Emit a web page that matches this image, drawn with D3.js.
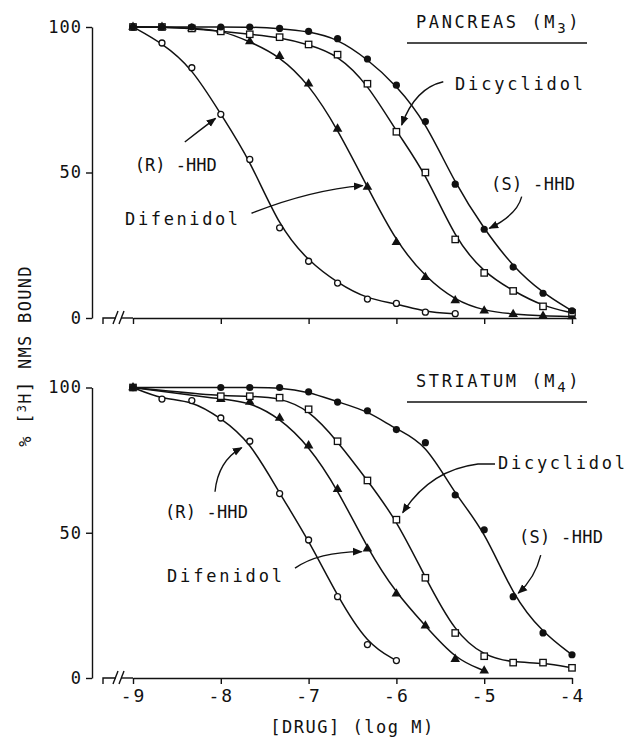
<!DOCTYPE html>
<html><head><meta charset="utf-8">
<script src="https://cdn.jsdelivr.net/npm/d3@7"></script>
<style>
html,body{margin:0;padding:0;background:#fff;}
svg{display:block;}
text{font-family:"DejaVu Sans Mono","Liberation Mono",monospace;fill:#111;}
</style></head>
<body>
<svg id="chart" width="628" height="738"></svg>
<script>
// ---------- data (log M vs % [3H]NMS bound) ----------
const xTickValues = [-9, -8, -7, -6, -5, -4];
const yTickValues = [0, 50, 100];

// Pancreas (M3)
const logDoseR_M3   = [-9, -8.67, -8.33, -8, -7.67, -7.33, -7, -6.67, -6.33, -6, -5.67, -5.33];
const boundR_M3     = [100, 94.5, 86, 70, 54.5, 31, 19.5, 12, 6.5, 5, 2, 1.5];
const logDoseDif_M3 = [-9, -8.67, -8.33, -8, -7.67, -7.33, -7, -6.67, -6.33, -6, -5.67, -5.33, -5, -4.67, -4.33, -4];
const boundDif_M3   = [100, 100, 99.5, 99, 95, 90, 80.5, 65, 45, 26, 14, 6, 2.5, 1.3, 0.7, 0.5];
const logDoseDic_M3 = [-9, -8.67, -8.33, -8, -7.67, -7.33, -7, -6.67, -6.33, -6, -5.67, -5.33, -5, -4.67, -4.33, -4];
const boundDic_M3   = [100, 100, 99.5, 98.5, 97.5, 96.5, 94, 90.5, 80.5, 64, 50, 27, 15.5, 9.3, 4, 1.8];
const logDoseS_M3   = [-9, -8.67, -8.33, -8, -7.67, -7.33, -7, -6.67, -6.33, -6, -5.67, -5.33, -5, -4.67, -4.33, -4];
const boundS_M3     = [100, 100, 100, 100, 100, 99.5, 98.5, 96, 89, 80, 67.5, 46, 30.5, 17.5, 8.5, 2.5];

// Striatum (M4)
const logDoseR_M4   = [-9, -8.67, -8.33, -8, -7.67, -7.33, -7, -6.67, -6.33, -6];
const boundR_M4     = [100, 96, 95.5, 89.5, 81.5, 63.5, 47.5, 28, 11.5, 6];
const logDoseDif_M4 = [-9, -8, -7.67, -7.33, -7, -6.67, -6.33, -6, -5.67, -5.33, -5];
const boundDif_M4   = [100, 96, 95, 89.5, 80, 65, 44.5, 29, 18, 6.5, 2.5];
const logDoseDic_M4 = [-9, -8, -7.67, -7.33, -7, -6.67, -6.33, -6, -5.67, -5.33, -5, -4.67, -4.33, -4];
const boundDic_M4   = [100, 97, 97, 96.5, 92.5, 81.5, 68, 54.5, 34.5, 15.5, 7.5, 5.3, 5.3, 3.5];
const logDoseS_M4   = [-9, -8, -7.67, -7.33, -7, -6.67, -6.33, -6, -5.67, -5.33, -5, -4.67, -4.33, -4];
const boundS_M4     = [100, 100, 100, 100, 98.5, 95, 92, 85.5, 81, 63, 51, 28, 15.5, 8];

const panelTitles = ["PANCREAS (M", "STRIATUM (M"];
const panelSubs = ["3", "4"];
const drugNames = ["(R) -HHD", "Difenidol", "Dicyclidol", "(S) -HHD"];

// ---------- layout ----------
const svg = d3.select("#chart");
const X0 = 133, X1 = 572, AXIS_X = 92;
const x = d3.scaleLinear().domain([-9, -4]).range([X0, X1]);
const panels = [
  {y: d3.scaleLinear().domain([0, 100]).range([318, 27]), title: 0,
   series: [[logDoseR_M3, boundR_M3, "oc"], [logDoseDif_M3, boundDif_M3, "tri"], [logDoseDic_M3, boundDic_M3, "sq"], [logDoseS_M3, boundS_M3, "fc"]],
   labels: [
     {t: 0, at: [-8.98, 50.5], len: 82, arrow: [[-8.41, 60.5], [-8.24, 64.5], [-8.06, 68.6]]},
     {t: 1, at: [-9.09, 32], len: 113, arrow: [[-7.65, 36], [-6.98, 44.0], [-6.384, 45.5]]},
     {t: 2, at: [-5.333, 78.35], len: 128, arrow: [[-5.466, 81.2], [-5.788, 79.0], [-5.94, 66.3]]},
     {t: 3, at: [-4.923, 44.0], len: 84, arrow: [[-4.573, 41.7], [-4.626, 35.4], [-4.942, 30.8]]}
   ], showX: false},
  {y: d3.scaleLinear().domain([0, 100]).range([678, 387.5]), title: 1,
   series: [[logDoseR_M4, boundR_M4, "oc"], [logDoseDif_M4, boundDif_M4, "tri"], [logDoseDic_M4, boundDic_M4, "sq"], [logDoseS_M4, boundS_M4, "fc"]],
   labels: [
     {t: 0, at: [-8.636, 55.0], len: 83, arrow: [[-8.066, 64.1], [-8.032, 74.7], [-7.762, 79.3]]},
     {t: 1, at: [-8.613, 32.9], len: 115, arrow: [[-7.155, 37.8], [-6.893, 43.4], [-6.395, 43.5]]},
     {t: 2, at: [-4.843, 71.9], len: 127, arrow: [[-4.877, 73.67], [-5.071, 73.67], [-5.617, 71.6], [-5.928, 56.9]]},
     {t: 3, at: [-4.604, 46.6], len: 84, arrow: [[-4.356, 42.3], [-4.421, 34.4], [-4.612, 29.2]]}
   ], showX: true}
];

// arrowhead
svg.append("defs").append("marker")
  .attr("id", "ah").attr("viewBox", "0 0 10 10").attr("refX", 9).attr("refY", 5)
  .attr("markerWidth", 7).attr("markerHeight", 7).attr("orient", "auto")
  .append("path").attr("d", "M0,1 L10,5 L0,9 Z").attr("fill", "#111");

const FONT = 17;

panels.forEach((p, pi) => {
  const y = p.y;
  const g = svg.append("g");
  const y0 = y(0);

  // y axis
  const ya = g.append("g").attr("transform", `translate(${AXIS_X},0)`)
    .call(d3.axisLeft(y).tickValues(yTickValues).tickSize(6).tickSizeOuter(0).tickPadding(4).tickFormat(d => String(d)));
  ya.selectAll("path,line").attr("stroke", "#111").attr("stroke-width", 1.4);
  ya.selectAll("text").style("font-size", FONT + "px").attr("fill", "#111").attr("letter-spacing", "1px");

  // x axis
  const xa = g.append("g").attr("transform", `translate(0,${y0})`)
    .call(d3.axisBottom(x).tickValues(xTickValues).tickSize(6).tickSizeOuter(0).tickPadding(5)
      .tickFormat(d => p.showX ? String(d) : ""));
  xa.selectAll("path,line").attr("stroke", "#111").attr("stroke-width", 1.4);
  xa.selectAll("text").style("font-size", FONT + 1 + "px").attr("fill", "#111").attr("letter-spacing", "2px");
  // axis break on the left of the x axis
  const bx = g.append("g").attr("stroke", "#111").attr("stroke-width", 1.4).attr("fill", "none");
  bx.append("path").attr("d", `M${X0 - 30},${y0 + 6}V${y0}H${X0 - 17}`);
  bx.append("path").attr("d", `M${X0 - 20},${y0 + 6}L${X0 - 15},${y0 - 7}`);
  bx.append("path").attr("d", `M${X0 - 14},${y0 + 6}L${X0 - 9},${y0 - 7}`);
  bx.append("path").attr("d", `M${X0 - 12},${y0}H${X0}`);

  // curves
  const line = d3.line().x(d => x(d[0])).y(d => y(d[1])).curve(d3.curveBasis);
  p.series.forEach(s => {
    const pts = s[0].map((v, i) => [v, s[1][i]]);
    g.append("path").attr("d", line(pts)).attr("fill", "none").attr("stroke", "#111").attr("stroke-width", 1.5);
  });
  // markers
  p.series.forEach(s => {
    const pts = s[0].map((v, i) => [v, s[1][i]]);
    const mg = g.append("g");
    pts.forEach(d => {
      const cx = x(d[0]), cy = y(d[1]);
      if (s[2] === "oc") mg.append("circle").attr("cx", cx).attr("cy", cy).attr("r", 3).attr("fill", "#fff").attr("stroke", "#111").attr("stroke-width", 1.3);
      else if (s[2] === "fc") mg.append("circle").attr("cx", cx).attr("cy", cy).attr("r", 3.6).attr("fill", "#111");
      else if (s[2] === "sq") mg.append("rect").attr("x", cx - 3.2).attr("y", cy - 3.2).attr("width", 6.4).attr("height", 6.4).attr("fill", "#fff").attr("stroke", "#111").attr("stroke-width", 1.3);
      else mg.append("path").attr("transform", `translate(${cx},${cy})`).attr("d", d3.symbol(d3.symbolTriangle, 40)()).attr("fill", "#111");
    });
  });

  // annotations
  p.labels.forEach(l => {
    g.append("text").attr("x", x(l.at[0])).attr("y", y(l.at[1]))
      .attr("textLength", l.len).attr("lengthAdjust", "spacing")
      .style("font-size", FONT + "px").text(drugNames[l.t]);
    const a = l.arrow.map(q => [x(q[0]), y(q[1])]);
    let d;
    if (a.length === 3) d = `M${a[0]}Q${a[1]} ${a[2]}`;
    else d = `M${a[0]}L${a[1]}Q${a[2]} ${a[3]}`;
    g.append("path").attr("d", d).attr("fill", "none").attr("stroke", "#111").attr("stroke-width", 1.4).attr("marker-end", "url(#ah)");
  });

  // panel title
  const ty = y(100) + (pi === 0 ? 1 : -0.5);
  const tt = g.append("text").attr("x", 416).attr("y", ty).style("font-size", FONT + "px").attr("letter-spacing", "2.6px");
  tt.append("tspan").text(panelTitles[p.title]);
  tt.append("tspan").attr("dy", 5).style("font-size", (FONT - 3) + "px").text(panelSubs[p.title]);
  tt.append("tspan").attr("dy", -5).text(")");
  g.append("line").attr("x1", 407).attr("x2", 587).attr("y1", ty + 15).attr("y2", ty + 15).attr("stroke", "#111").attr("stroke-width", 1.6);
});

// axis titles
const yl = svg.append("text").attr("transform", "translate(31,356) rotate(-90)").attr("text-anchor", "middle")
  .style("font-size", "17px").attr("letter-spacing", "1.3px");
yl.append("tspan").text("% [");
yl.append("tspan").attr("dy", -5).style("font-size", "12px").text("3");
yl.append("tspan").attr("dy", 5).text("H] NMS BOUND");

svg.append("text").attr("x", (x(-7) + x(-6)) / 2).attr("y", 733).attr("text-anchor", "middle")
  .style("font-size", "17px").attr("letter-spacing", "1.5px").text("[DRUG] (log M)");
</script>
</body></html>
